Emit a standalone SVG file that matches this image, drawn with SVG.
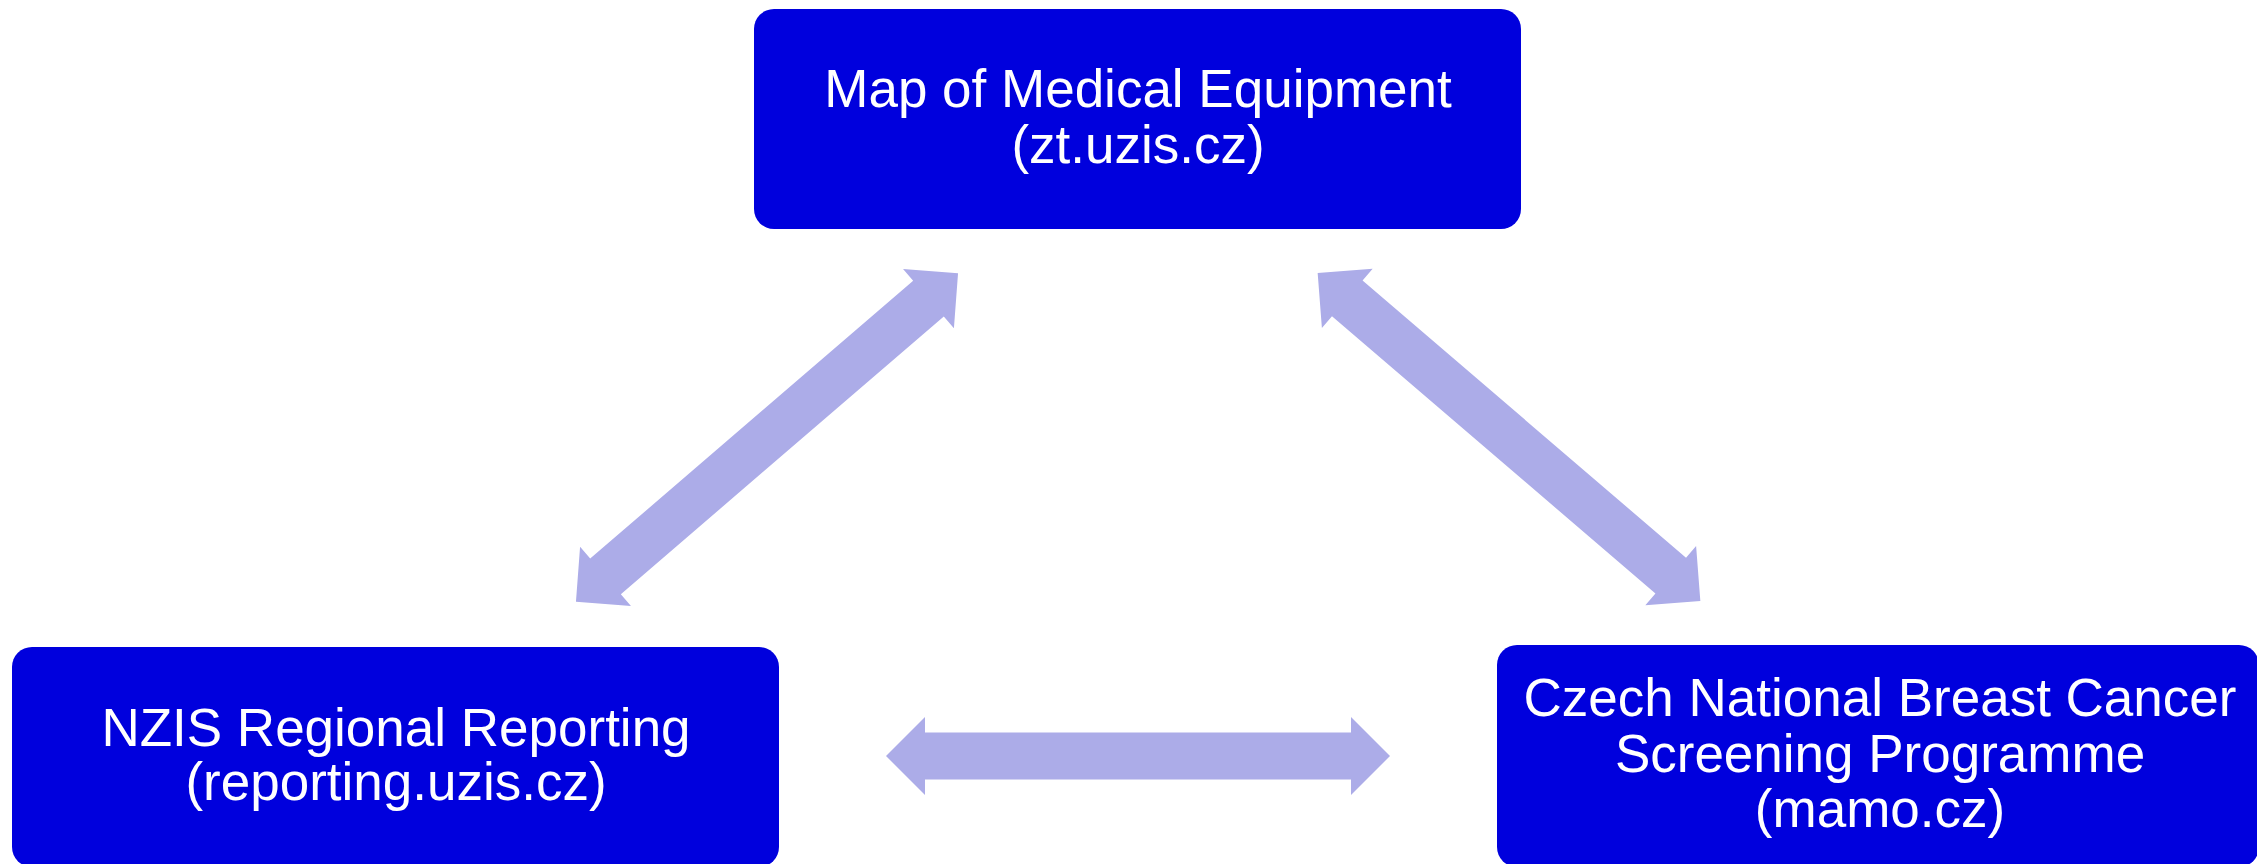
<svg xmlns="http://www.w3.org/2000/svg" xmlns:xlink="http://www.w3.org/1999/xlink" width="2257" height="864" viewBox="0 0 2257 864">
  <style>
    .box { fill: #0000DD; }
    .label { fill: #FFFFFF; font-family: "Liberation Sans", Arial, sans-serif; font-size: 53px; text-anchor: middle; }
    .arrow { fill: #ACACE8; }
  </style>
  <defs>
    <polygon id="dblArrow" points="252,0 213,39 213,23.5 -213,23.5 -213,39 -252,0 -213,-39 -213,-23.5 213,-23.5 213,-39"/>
  </defs>
  <rect width="2257" height="864" fill="#FFFFFF"/>
  <g id="connectors" class="arrow">
    <use xlink:href="#dblArrow" href="#dblArrow" transform="translate(767,437.5) rotate(-40.7)"/>
    <use xlink:href="#dblArrow" href="#dblArrow" transform="translate(1509,437) rotate(40.6)"/>
    <use xlink:href="#dblArrow" href="#dblArrow" transform="translate(1138,756)"/>
  </g>
  <g id="node-map">
    <rect class="box" x="754" y="9" width="767" height="220" rx="20" ry="20"/>
    <text class="label" x="1138" y="107">Map of Medical Equipment</text>
    <text class="label" x="1138" y="163">(zt.uzis.cz)</text>
  </g>
  <g id="node-reporting">
    <rect class="box" x="12" y="647" width="767" height="220" rx="20" ry="20"/>
    <text class="label" x="396" y="746">NZIS Regional Reporting</text>
    <text class="label" x="396" y="800">(reporting.uzis.cz)</text>
  </g>
  <g id="node-mamo">
    <rect class="box" x="1497" y="645" width="762" height="222" rx="20" ry="20"/>
    <text class="label" x="1880" y="716">Czech National Breast Cancer</text>
    <text class="label" x="1880" y="772">Screening Programme</text>
    <text class="label" x="1880" y="827">(mamo.cz)</text>
  </g>
</svg>
